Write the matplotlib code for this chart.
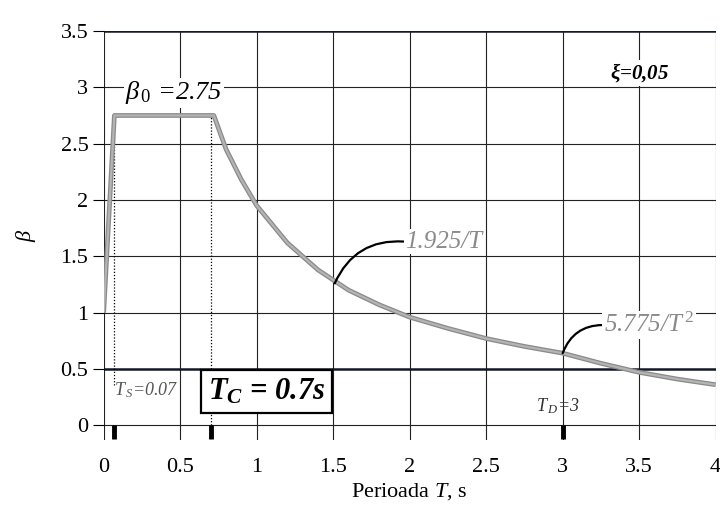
import matplotlib
matplotlib.use('Agg')
import matplotlib.pyplot as plt

# ---- data ----
period = [0.0, 0.07, 0.72, 0.8, 0.9, 1.0, 1.2, 1.4, 1.6, 1.8, 2.0, 2.25, 2.5, 2.75,
          3.0, 3.25, 3.5, 3.75, 4.0]
beta = [1.0, 2.75, 2.75, 2.45, 2.18, 1.95, 1.62, 1.38, 1.20, 1.07, 0.96, 0.86, 0.77, 0.70,
        0.64, 0.55, 0.47, 0.41, 0.36]
ref_periods = [0.07, 0.7, 3.0]      # T_S, T_C, T_D
beta0 = 2.75
x_ticks = [0, 0.5, 1, 1.5, 2, 2.5, 3, 3.5, 4]
x_labels = ['0', '0.5', '1', '1.5', '2', '2.5', '3', '3.5', '4']
y_ticks = [0, 0.5, 1, 1.5, 2, 2.5, 3, 3.5]
y_labels = ['0', '0.5', '1', '1.5', '2', '2.5', '3', '3.5']

plt.rcParams['font.family'] = ['Liberation Serif', 'DejaVu Serif']
plt.rcParams['mathtext.fontset'] = 'custom'
plt.rcParams['mathtext.rm'] = 'Liberation Serif'
plt.rcParams['mathtext.it'] = 'Liberation Serif:italic'
plt.rcParams['mathtext.bf'] = 'Liberation Serif:bold:italic'

fig = plt.figure(figsize=(7.2, 5.08), dpi=100)
ax = fig.add_axes([0.144, 0.134, 0.85, 0.805])
ax.set_xlim(0, 4)
ax.set_ylim(-0.13, 3.5)
for s in ax.spines.values():
    s.set_visible(False)

# grid
for v in x_ticks:
    ax.axvline(v, color='#222222', lw=0.8, zorder=1)
for h in y_ticks:
    if h in (0.5, 3.5):
        ax.axhline(h, color='#111827', lw=1.8, zorder=1)
    else:
        ax.axhline(h, color='#222222', lw=0.8, zorder=1)

ax.set_xticks(x_ticks)
ax.set_xticklabels(x_labels)
ax.set_yticks(y_ticks)
ax.set_yticklabels(y_labels)
ax.tick_params(axis='x', length=0, pad=13, labelsize=16)
ax.tick_params(axis='y', length=8, width=0.8, direction='out', pad=3, labelsize=16)

ax.set_xlabel(r'Perioada $T$, s', fontsize=16, labelpad=3)
ax.set_ylabel(r'$\beta$', fontsize=16, labelpad=16)

# spectrum curve
ax.plot(period, beta, color='#8a8a8a', lw=3.4, zorder=3, solid_capstyle='butt')
ax.plot(period, beta, color='#b4b4b4', lw=1.6, zorder=4, solid_capstyle='butt')

# dotted reference lines
ax.vlines(ref_periods[0], 0.36, beta0, colors='k', linestyles=(0, (1, 1.5)), lw=0.9, zorder=2)
ax.vlines(ref_periods[1], 0.0, beta0, colors='k', linestyles=(0, (1, 1.5)), lw=0.9, zorder=2)

# bold markers below axis
ax.vlines(ref_periods, -0.12, 0.0, colors='k', lw=3.5, zorder=5)

white = dict(facecolor='white', edgecolor='none', pad=1)

ax.text(0.14, 2.95, r'$\beta_{\,0}$' + ' =2.75', fontsize=19, fontstyle='italic',
        ha='left', va='center', bbox=white, zorder=6)
ax.text(3.31, 3.13, r'$\mathbf{\xi}$' + '=0,05', fontsize=15, fontstyle='italic',
        fontweight='bold', ha='left', va='center', bbox=white, zorder=6)
ax.text(0.07, 0.31, r'$T_{\,S}$' + '=0.07', fontsize=13, fontstyle='italic',
        color='#555555', ha='left', va='center', zorder=6)
ax.text(2.97, 0.17, r'$T_{\,D}$' + '=3', fontsize=13, fontstyle='italic',
        color='#333333', ha='center', va='center', zorder=6)
ax.text(1.065, 0.30, r'$\mathbf{T_C}$' + ' = 0.7s', fontsize=22, fontstyle='italic',
        fontweight='bold', ha='center', va='center',
        bbox=dict(facecolor='white', edgecolor='black', lw=1.6, pad=5), zorder=6)

ax.annotate('1.925/T', xy=(1.51, 1.26), xytext=(1.97, 1.63), fontsize=18,
            fontstyle='italic', color='#8a8a8a', ha='left', va='center',
            bbox=white, zorder=6,
            arrowprops=dict(arrowstyle='-', color='black', lw=1.6, shrinkA=0, shrinkB=0,
                            relpos=(0, 0.5), connectionstyle='arc3,rad=0.35'))
ax.annotate(r'5.775/$T^{\,2}$', xy=(3.0, 0.64), xytext=(3.27, 0.89), fontsize=18,
            fontstyle='italic', color='#8a8a8a', ha='left', va='center',
            bbox=white, zorder=6,
            arrowprops=dict(arrowstyle='-', color='black', lw=1.6, shrinkA=0, shrinkB=0,
                            relpos=(0, 0.5), connectionstyle='arc3,rad=0.35'))

fig.savefig('out.png', dpi=100)
